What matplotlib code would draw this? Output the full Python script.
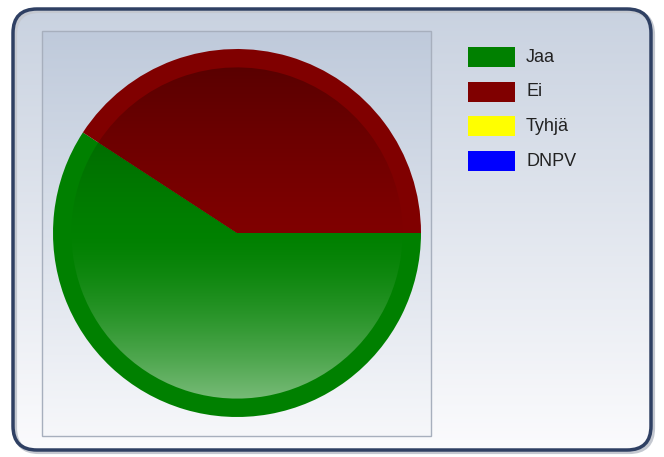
import numpy as np
import matplotlib
matplotlib.use("Agg")
import matplotlib.pyplot as plt
from matplotlib.patches import FancyBboxPatch, Rectangle, Wedge
from matplotlib.colors import to_rgb

categories = ["Jaa", "Ei", "Tyhjä", "DNPV"]
values = [59.2, 40.8, 0, 0]
colors = ["#008000", "#800000", "#ffff00", "#0000ff"]

W, H = 664, 457
fig = plt.figure(figsize=(W / 100, H / 100), dpi=100)
fig.patch.set_facecolor("white")

def vgrad(top, bottom, n=256):
    t = np.linspace(0, 1, n)[:, None]
    a = np.array(to_rgb(top)); b = np.array(to_rgb(bottom))
    return (a * (1 - t) + b * t)[:, None, :].repeat(2, axis=1)

# background frame
bg = fig.add_axes([0, 0, 1, 1])
bg.set_xlim(0, W); bg.set_ylim(H, 0); bg.axis("off")
frame = FancyBboxPatch((13, 9), 638, 441, boxstyle="round,pad=0,rounding_size=24",
                       facecolor="none", edgecolor="#2f4063", linewidth=2.5, zorder=5)
shadow = FancyBboxPatch((15, 11), 638, 441, boxstyle="round,pad=0,rounding_size=24",
                        facecolor="none", edgecolor="#c4c8d0", linewidth=3, zorder=4)
bg.add_patch(shadow)
im = bg.imshow(vgrad("#c9d2e0", "#fbfbfd"), extent=[13, 651, 450, 9], aspect="auto", zorder=1)
clip = FancyBboxPatch((13, 9), 638, 441, boxstyle="round,pad=0,rounding_size=24",
                      transform=bg.transData, facecolor="none", edgecolor="none")
bg.add_patch(clip)
im.set_clip_path(clip)
bg.add_patch(frame)
# plot box
pim = bg.imshow(vgrad("#bfcadb", "#f6f7fa"), extent=[42, 431, 436, 31], aspect="auto", zorder=2)
bg.add_patch(Rectangle((42, 31), 389, 405, facecolor="none", edgecolor="#a7afbd", linewidth=1, zorder=3))

# legend
for i, (c, col) in enumerate(zip(categories, colors)):
    y = 47 + i * 34.7
    bg.add_patch(Rectangle((468, y), 47, 20, facecolor=col, edgecolor="none", zorder=6))
    bg.text(526, y + 10, c, fontsize=13, family="Liberation Sans", color="#222222",
            va="center", ha="left", zorder=6)

# pie
cx, cy, r = 237, 233, 184
ax = fig.add_axes([(cx - r) / W, (H - cy - r) / H, 2 * r / W, 2 * r / H])
ax.set_xlim(-1, 1); ax.set_ylim(-1, 1); ax.axis("off")
wedges, _ = ax.pie(values, colors=colors, startangle=0, counterclock=False, radius=1,
                   wedgeprops=dict(linewidth=0))
ax.set_xlim(-1, 1); ax.set_ylim(-1, 1)

ri = 0.9
n = 300
yy = np.linspace(1, -1, n)[:, None]
for w, col in zip(wedges, colors):
    if w.theta2 - w.theta1 <= 0:
        continue
    base = np.array(to_rgb(col))
    img = np.zeros((n, 2, 3))
    for k in range(n):
        y = yy[k, 0]
        if y > 0:
            f = 1 - 0.3 * (y / ri) ** 1.2
            c = base * f
        else:
            f = 0.5 * (-y / ri) ** 1.5
            c = base * (1 - f) + np.array([0.93, 0.96, 0.93]) * f
        img[k, :, :] = np.clip(c, 0, 1)
    inner = Wedge((0, 0), ri, w.theta1, w.theta2, facecolor="none", edgecolor="none",
                  transform=ax.transData)
    ax.add_patch(inner)
    gi = ax.imshow(img, extent=[-1, 1, -1, 1], aspect="auto", zorder=3)
    gi.set_clip_path(inner)
ax.set_xlim(-1, 1); ax.set_ylim(-1, 1)

fig.savefig("out.png", dpi=100)
